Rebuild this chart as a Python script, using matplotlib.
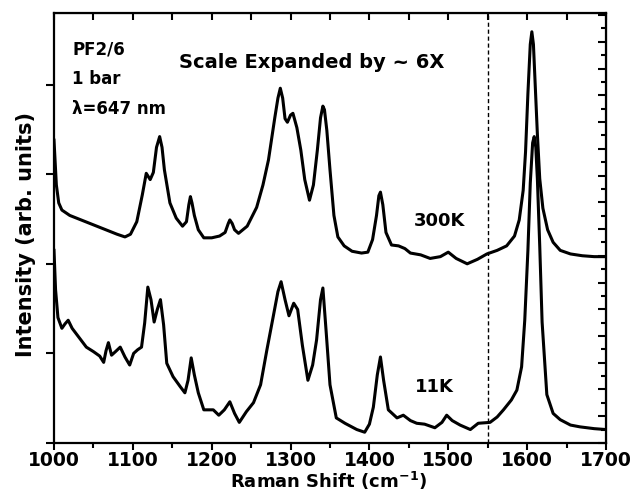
"""Raman spectra of PF2/6 at 300K and 11K (1 bar, 647 nm excitation)."""

import matplotlib
matplotlib.use("Agg")
import matplotlib.pyplot as plt
from matplotlib.ticker import MultipleLocator, NullFormatter

plt.rcParams["font.family"] = ["DejaVu Sans"]
plt.rcParams["font.weight"] = "bold"
plt.rcParams["mathtext.default"] = "bf"

# ---- data (Raman shift cm-1, intensity arb. units) ----
shift_300k = [1000, 1003, 1006, 1010, 1020, 1040, 1060, 1080, 1090, 1097, 1105, 1112,
              1117, 1122, 1126, 1130, 1134, 1137, 1140, 1147, 1155, 1163, 1168, 1171,
              1173, 1175, 1178, 1183, 1190, 1200, 1210, 1217, 1221, 1223, 1226, 1229,
              1234, 1245, 1257, 1265, 1272, 1280, 1284, 1287, 1290, 1293, 1296, 1300,
              1303, 1308, 1313, 1318, 1324, 1329, 1334, 1338, 1341, 1343, 1346, 1350,
              1355, 1360, 1368, 1378, 1390, 1398, 1404, 1409, 1412, 1414, 1417, 1421,
              1428, 1437, 1445, 1452, 1465, 1477, 1490, 1500, 1510, 1524, 1537, 1549,
              1562, 1574, 1584, 1590, 1595, 1598, 1601, 1604, 1606, 1608, 1610, 1613,
              1616, 1620, 1626, 1633, 1642, 1655, 1670, 1685, 1700]
int_300k = [3.38, 2.88, 2.68, 2.60, 2.54, 2.47, 2.40, 2.33, 2.30, 2.33, 2.47, 2.77,
            3.01, 2.94, 3.02, 3.30, 3.42, 3.30, 3.05, 2.68, 2.51, 2.42, 2.47, 2.66,
            2.75, 2.68, 2.54, 2.38, 2.29, 2.29, 2.31, 2.35, 2.45, 2.49, 2.45, 2.38,
            2.34, 2.42, 2.63, 2.88, 3.16, 3.63, 3.85, 3.96, 3.85, 3.62, 3.58, 3.66,
            3.68, 3.52, 3.27, 2.94, 2.71, 2.88, 3.27, 3.63, 3.76, 3.72, 3.49, 3.05,
            2.54, 2.30, 2.20, 2.14, 2.12, 2.13, 2.27, 2.54, 2.76, 2.80, 2.66, 2.35,
            2.21, 2.20, 2.17, 2.12, 2.10, 2.06, 2.08, 2.13, 2.06, 2.00, 2.05, 2.11,
            2.15, 2.20, 2.31, 2.49, 2.82, 3.25, 3.90, 4.45, 4.59, 4.45, 4.05, 3.45,
            2.95, 2.62, 2.38, 2.24, 2.15, 2.11, 2.09, 2.08, 2.08]

shift_11k = [1000, 1002, 1005, 1010, 1014, 1018, 1023, 1029, 1041, 1050, 1058, 1063,
             1066, 1069, 1073, 1078, 1084, 1090, 1096, 1101, 1106, 1111, 1115, 1119,
             1123, 1127, 1131, 1135, 1139, 1143, 1151, 1160, 1166, 1170, 1174, 1178,
             1183, 1190, 1202, 1209, 1216, 1223, 1229, 1235, 1244, 1253, 1262, 1270,
             1278, 1284, 1288, 1293, 1298, 1304, 1309, 1315, 1322, 1328, 1333, 1338,
             1341, 1345, 1350, 1358, 1369, 1384, 1394, 1400, 1405, 1410, 1414, 1418,
             1424, 1435, 1443, 1452, 1460, 1470, 1483, 1492, 1498, 1505, 1515, 1528,
             1538, 1553, 1562, 1570, 1580, 1587, 1593, 1597, 1601, 1604, 1607, 1609,
             1611, 1613, 1616, 1619, 1625, 1633, 1642, 1655, 1667, 1685, 1700]
int_11k = [2.15, 1.71, 1.40, 1.28, 1.33, 1.37, 1.28, 1.21, 1.07, 1.02, 0.97, 0.90,
           1.03, 1.12, 0.98, 1.02, 1.07, 0.96, 0.87, 1.00, 1.04, 1.07, 1.34, 1.74,
           1.60, 1.35, 1.49, 1.60, 1.32, 0.89, 0.74, 0.63, 0.56, 0.70, 0.95, 0.76,
           0.56, 0.37, 0.37, 0.31, 0.37, 0.46, 0.33, 0.23, 0.35, 0.45, 0.65, 1.04,
           1.41, 1.69, 1.80, 1.60, 1.42, 1.56, 1.49, 1.09, 0.70, 0.87, 1.15, 1.60,
           1.73, 1.26, 0.65, 0.28, 0.22, 0.15, 0.12, 0.21, 0.40, 0.76, 0.96, 0.70,
           0.37, 0.28, 0.31, 0.25, 0.22, 0.21, 0.17, 0.23, 0.31, 0.25, 0.20, 0.15,
           0.22, 0.23, 0.29, 0.37, 0.48, 0.59, 0.85, 1.37, 2.15, 2.90, 3.35, 3.42,
           3.30, 2.95, 2.20, 1.35, 0.54, 0.33, 0.26, 0.20, 0.18, 0.16, 0.15]

scale_break = 1550  # left of this line the spectra are expanded ~6x
info_lines = ["PF2/6", "1 bar", "λ=647 nm"]

fig = plt.figure(figsize=(6.33, 4.91), dpi=100)
ax = fig.add_axes([0.0853, 0.0978, 0.872, 0.8758])

ax.plot(shift_300k, int_300k, color="black", lw=2.2, solid_joinstyle="round")
ax.plot(shift_11k, int_11k, color="black", lw=2.2, solid_joinstyle="round")
ax.axvline(scale_break, color="black", lw=1.0, ls=(0, (3, 2)))

ax.set_xlim(1000, 1700)
ax.set_ylim(0, 4.8)
for s in ax.spines.values():
    s.set_linewidth(1.6)

# bottom: labelled, ticks outward; left: plain major ticks outward
ax.xaxis.set_major_locator(MultipleLocator(100))
ax.xaxis.set_minor_locator(MultipleLocator(50))
ax.tick_params(axis="x", which="major", direction="out", length=5, width=1.5,
               labelsize=13.5, pad=1)
ax.tick_params(axis="x", which="minor", direction="out", length=3.5, width=1.5)
ax.yaxis.set_major_locator(MultipleLocator(1))
ax.yaxis.set_major_formatter(NullFormatter())
ax.tick_params(axis="y", which="major", direction="out", length=6, width=1.5)

# top axis: unlabelled inward ticks every 50
top = ax.secondary_xaxis("top")
top.xaxis.set_major_locator(MultipleLocator(50))
top.xaxis.set_major_formatter(NullFormatter())
top.tick_params(direction="in", length=5, width=1.5)

# right axis: finer inward ticks
k = 89.6 / 26.75
right = ax.secondary_yaxis("right", functions=(lambda y: y * k, lambda y: y / k))
right.yaxis.set_major_locator(MultipleLocator(1))
right.yaxis.set_minor_locator(MultipleLocator(0.5))
right.yaxis.set_major_formatter(NullFormatter())
right.tick_params(which="major", direction="in", length=6, width=1.5)
right.tick_params(which="minor", direction="in", length=3.5, width=1.5)

ax.set_xlabel("Raman Shift (cm$^{-1}$)", fontsize=13, fontweight="bold", va="center")
ax.xaxis.set_label_coords(0.498, -0.089)
ax.set_ylabel("Intensity (arb. units)", fontsize=15, fontweight="bold", va="center")
ax.yaxis.set_label_coords(-0.05, 0.484)

for i, line in enumerate(info_lines):
    ax.text(1023, 4.39 - i * 0.33, line, fontsize=12, fontweight="bold",
            ha="left", va="center")
ax.text(1327, 4.25, "Scale Expanded by ~ 6X", fontsize=14, fontweight="bold",
        ha="center", va="center")
ax.text(1489, 2.48, "300K", fontsize=13, fontweight="bold", ha="center", va="center")
ax.text(1483, 0.625, "11K", fontsize=13, fontweight="bold", ha="center", va="center")

fig.savefig("out.png", dpi=100)
